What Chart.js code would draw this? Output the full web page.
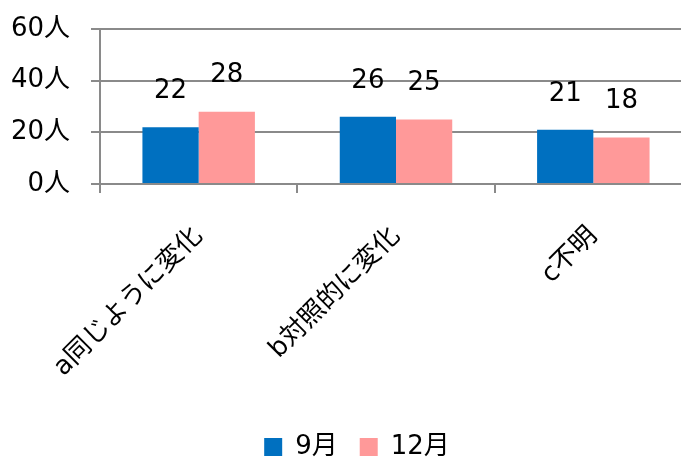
<!DOCTYPE html>
<html>
<head>
<meta charset="utf-8">
<script src="https://cdn.jsdelivr.net/npm/chart.js@4"></script>
<style>
  html, body { margin: 0; padding: 0; background: #fff; overflow: hidden; }
  #wrap { width: 692px; height: 457px; position: relative; }
</style>
</head>
<body>
<div id="wrap"><canvas id="c"></canvas></div>
<script>
// Categories and series values
const categories = ['a同じように変化', 'b対照的に変化', 'c不明'];
const septemberValues = [22, 26, 21];
const decemberValues = [28, 25, 18];
const seriesNames = ['9月', '12月'];
const yTicks = [0, 20, 40, 60];

const FONT = "'DejaVu Sans', 'Noto Sans CJK JP', sans-serif";
const AXIS_GRAY = '#8a8a8a';

// Writes each bar's value above it
const valueLabels = {
  id: 'valueLabels',
  afterDatasetsDraw(chart) {
    const ctx = chart.ctx;
    ctx.save();
    ctx.font = '26px ' + FONT;
    ctx.fillStyle = '#000';
    ctx.textAlign = 'center';
    ctx.textBaseline = 'middle';
    chart.data.datasets.forEach((ds, di) => {
      chart.getDatasetMeta(di).data.forEach((bar, i) => {
        ctx.fillText(String(ds.data[i]), bar.x, bar.y - 36);
      });
    });
    ctx.restore();
  }
};

// Nudges the legend block a little to the right of the canvas centre
const legendShift = {
  id: 'legendShift',
  afterLayout(chart) {
    if (chart.legend) {
      chart.legend.left += 11;
      chart.legend.right += 11;
    }
  }
};

new Chart(document.getElementById('c'), {
  type: 'bar',
  data: {
    labels: categories,
    datasets: [
      { label: seriesNames[0], data: septemberValues, backgroundColor: '#0070C0' },
      { label: seriesNames[1], data: decemberValues, backgroundColor: '#FF9999' }
    ]
  },
  options: {
    responsive: true,
    maintainAspectRatio: false,
    animation: false,
    categoryPercentage: 0.57,
    barPercentage: 1,
    layout: { padding: { top: 29, left: 0, right: 0, bottom: -13 } },
    plugins: {
      tooltip: { enabled: false },
      legend: {
        position: 'bottom',
        labels: {
          font: { family: FONT, size: 26 },
          color: '#000',
          boxWidth: 18,
          boxHeight: 18,
          padding: 22
        }
      }
    },
    scales: {
      x: {
        afterFit: s => { s.height = 228; s.paddingLeft = 0; s.paddingRight = 0; },
        grid: { drawOnChartArea: false, drawTicks: true, tickLength: 9, color: AXIS_GRAY, lineWidth: 2 },
        border: { color: AXIS_GRAY, width: 2 },
        ticks: {
          font: { family: FONT, size: 26 },
          color: '#000',
          minRotation: 45,
          maxRotation: 45,
          padding: 28
        }
      },
      y: {
        min: 0,
        max: 60,
        afterFit: s => { s.width = 100; s.paddingTop = 0; s.paddingBottom = 0; },
        afterBuildTicks: s => { s.ticks = yTicks.map(v => ({ value: v })); },
        grid: { color: AXIS_GRAY, lineWidth: 2, tickLength: 9 },
        border: { color: AXIS_GRAY, width: 2 },
        ticks: {
          font: { family: FONT, size: 26 },
          color: '#000',
          padding: 21,
          callback: v => v + '人'
        }
      }
    }
  },
  plugins: [valueLabels, legendShift]
});
</script>
</body>
</html>
